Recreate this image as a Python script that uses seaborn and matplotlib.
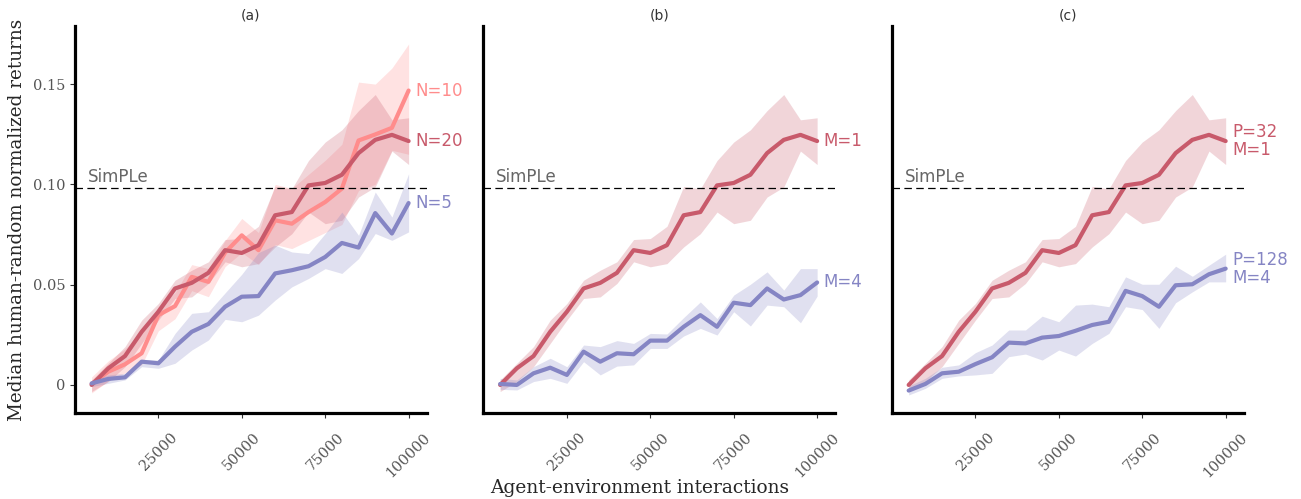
import seaborn as sns
import pandas as pd
import numpy as np
import matplotlib.pyplot as plt

steps = [5000, 10000, 15000, 20000, 25000, 30000, 35000, 40000, 45000, 50000,
         55000, 60000, 65000, 70000, 75000, 80000, 85000, 90000, 95000, 100000]

# baseline run (N=20 / M=1 / P=32), same in all three panels
base = [0.0, 0.0083, 0.0144, 0.0265, 0.0365, 0.0481, 0.0509, 0.0559, 0.0672, 0.0658,
        0.0697, 0.0846, 0.0862, 0.0995, 0.1007, 0.1048, 0.1156, 0.1222, 0.1247, 0.1216]
base_lo = [-0.0033, 0.0017, 0.0091, 0.0207, 0.0323, 0.0431, 0.0439, 0.0506, 0.0614, 0.0589,
           0.0605, 0.0688, 0.0754, 0.0862, 0.0804, 0.0821, 0.0937, 0.0987, 0.1166, 0.1099]
base_hi = [0.0025, 0.0108, 0.0191, 0.0323, 0.0406, 0.0522, 0.0572, 0.0614, 0.0725, 0.0730,
           0.0791, 0.0990, 0.0978, 0.1119, 0.1211, 0.1272, 0.1368, 0.1448, 0.1322, 0.1332]

# (a) N=10
n10 = [0.0005, 0.0066, 0.0103, 0.0158, 0.0348, 0.0393, 0.0539, 0.0514, 0.0660, 0.0746,
       0.0672, 0.0821, 0.0804, 0.0862, 0.0912, 0.0979, 0.1219, 0.1249, 0.1282, 0.1468]
n10_lo = [-0.004, 0.002, 0.006, 0.010, 0.027, 0.033, 0.047, 0.044, 0.059, 0.066,
          0.060, 0.070, 0.068, 0.072, 0.076, 0.080, 0.097, 0.100, 0.117, 0.115]
n10_hi = [0.004, 0.012, 0.018, 0.026, 0.039, 0.046, 0.060, 0.058, 0.072, 0.083,
          0.076, 0.100, 0.098, 0.105, 0.112, 0.120, 0.151, 0.150, 0.158, 0.170]

# (a) N=5
n5 = [0.0008, 0.0030, 0.0038, 0.0116, 0.0108, 0.0191, 0.0265, 0.0304, 0.0390, 0.0440,
      0.0443, 0.0556, 0.0572, 0.0592, 0.0638, 0.0708, 0.0685, 0.0857, 0.0755, 0.0907]
n5_lo = [-0.0008, 0.0008, 0.0025, 0.0091, 0.0083, 0.0108, 0.0174, 0.0224, 0.0327, 0.0315,
         0.0348, 0.0423, 0.0489, 0.0531, 0.0580, 0.0556, 0.0630, 0.0755, 0.0721, 0.0763]
n5_hi = [0.0025, 0.0050, 0.0058, 0.0128, 0.0124, 0.0257, 0.0357, 0.0365, 0.0459, 0.0552,
         0.0660, 0.0697, 0.0663, 0.0655, 0.0755, 0.0862, 0.0746, 0.0962, 0.0837, 0.1053]

# (b) M=4
m4 = [0.0005, 0.0, 0.0058, 0.0086, 0.0050, 0.0166, 0.0116, 0.0158, 0.0153, 0.0221,
      0.0221, 0.0290, 0.0348, 0.0290, 0.0410, 0.0398, 0.0481, 0.0426, 0.0448, 0.0511]
m4_lo = [-0.0022, -0.0025, 0.0017, 0.0033, 0.0008, 0.0116, 0.0050, 0.0094, 0.0100, 0.0182,
         0.0182, 0.0244, 0.0282, 0.0249, 0.0365, 0.0294, 0.0398, 0.0390, 0.0310, 0.0443]
m4_hi = [0.0033, 0.0025, 0.0091, 0.0133, 0.0091, 0.0199, 0.0191, 0.0221, 0.0207, 0.0257,
         0.0254, 0.0336, 0.0414, 0.0331, 0.0448, 0.0502, 0.0564, 0.0473, 0.0580, 0.0580]

# (c) P=128 M=4
p128 = [-0.0028, 0.0005, 0.0058, 0.0066, 0.0104, 0.0138, 0.0211, 0.0207, 0.0236, 0.0244,
        0.0270, 0.0299, 0.0315, 0.0469, 0.0443, 0.0390, 0.0497, 0.0502, 0.0552, 0.0580]
p128_lo = [-0.0050, -0.0017, 0.0033, 0.0045, 0.0050, 0.0058, 0.0141, 0.0154, 0.0124, 0.0174,
           0.0144, 0.0207, 0.0257, 0.0390, 0.0376, 0.0282, 0.0410, 0.0464, 0.0514, 0.0514]
p128_hi = [-0.0005, 0.0033, 0.0088, 0.0100, 0.0161, 0.0199, 0.0274, 0.0274, 0.0343, 0.0315,
           0.0398, 0.0403, 0.0390, 0.0539, 0.0502, 0.0502, 0.0592, 0.0542, 0.0597, 0.0652]

simple_score = 0.0984
titles = ['(a)', '(b)', '(c)']
yticks = [0, 0.05, 0.10, 0.15]
ytick_labels = ['0', '0.05', '0.10', '0.15']
xticks = [25000, 50000, 75000, 100000]

red = '#c85a6b'
pink = '#ff8c8c'
blue = '#8585c4'

panels = [
    [(n10, n10_lo, n10_hi, pink, 'N=10'),
     (base, base_lo, base_hi, red, 'N=20'),
     (n5, n5_lo, n5_hi, blue, 'N=5')],
    [(base, base_lo, base_hi, red, 'M=1'),
     (m4, m4_lo, m4_hi, blue, 'M=4')],
    [(base, base_lo, base_hi, red, 'P=32\nM=1'),
     (p128, p128_lo, p128_hi, blue, 'P=128\nM=4')],
]

sns.set_style('ticks')
plt.rcParams['axes.edgecolor'] = 'black'

fig, axes = plt.subplots(1, 3, figsize=(13.01, 4.99), dpi=100, sharey=True)
fig.subplots_adjust(left=0.0576, right=0.9562, bottom=0.1723, top=0.948, wspace=0.1605)

for k, ax in enumerate(axes):
    for vals, lo, hi, col, lab in panels[k]:
        ax.fill_between(steps, lo, hi, color=col, alpha=0.25, linewidth=0)
        df = pd.DataFrame({'x': steps, 'y': vals})
        sns.lineplot(data=df, x='x', y='y', ax=ax, color=col, linewidth=3, errorbar=None)
        ax.text(102000, vals[-1], lab, color=col, fontsize=12, va='center', ha='left',
                linespacing=1.0, clip_on=False)

    ax.axhline(simple_score, color='black', linestyle=(0, (6, 3.5)), linewidth=0.9)
    ax.text(3800, simple_score + 0.001, 'SimPLe', color='#666666', fontsize=12, va='bottom')

    ax.set_xlim(0, 105500)
    ax.set_ylim(-0.014, 0.179)
    ax.set_title(titles[k], fontsize=10, color='#333333', pad=5)
    ax.set_xlabel('')
    ax.set_ylabel('')
    ax.set_xticks(xticks)
    ax.set_xticklabels([str(t) for t in xticks], rotation=45, family='DejaVu Serif',
                       color='#555555', fontsize=10.5)
    ax.set_yticks(yticks)
    ax.set_yticklabels(ytick_labels, family='DejaVu Serif', color='#555555', fontsize=10.5)
    for s in ['left', 'bottom']:
        ax.spines[s].set_linewidth(2.3)
        ax.spines[s].set_color('black')
    sns.despine(ax=ax)
    ax.tick_params(axis='x', length=3.5, width=0.8, color='#333333', pad=9)
    if k == 0:
        ax.tick_params(axis='y', length=3.5, width=0.8, color='#333333')
    else:
        ax.tick_params(axis='y', left=False, labelleft=False)

fig.text(0.013, 0.56, 'Median human-random normalized returns', rotation=90,
         family='DejaVu Serif', fontsize=13.2, va='center', ha='center')
fig.text(0.492, 0.022, 'Agent-environment interactions', family='DejaVu Serif',
         fontsize=13.4, va='center', ha='center')

plt.savefig('out.png', dpi=100)
